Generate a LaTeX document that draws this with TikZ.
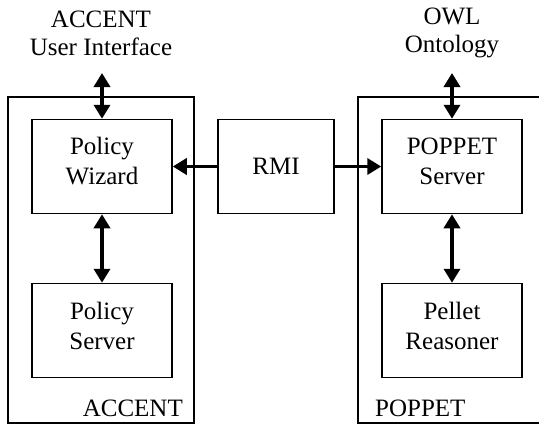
\documentclass[tikz,border=0pt]{standalone}
\usepackage{fontspec}
\setmainfont{Liberation Serif}
\usetikzlibrary{arrows.meta}
\begin{document}
\begin{tikzpicture}[x=1pt,y=-1pt,
  comp/.style={draw,line width=1.5pt,minimum width=140pt,minimum height=94pt,inner sep=0pt},
  boxtext/.style={align=center,inner sep=0pt,font=\fontsize{25}{30}\selectfont},
  toptext/.style={align=center,inner sep=0pt,font=\fontsize{25}{28}\selectfont},
  sidetext/.style={inner sep=0pt,font=\fontsize{25}{30}\selectfont},
  biarrow/.style={line width=3.5pt,{Triangle[length=14pt,width=16pt]}-{Triangle[length=14pt,width=16pt]}},
  onearrow/.style={line width=3.5pt,-{Triangle[length=14pt,width=16pt]}}]
\useasboundingbox (0,0) rectangle (539,424);
% containers
\draw[line width=1.5pt] (8,97) rectangle (194,423);
\draw[line width=1.5pt] (545,97) -- (358,97) -- (358,423) -- (545,423);
\node[sidetext,anchor=base east] (accentlbl) at (183,416) {ACCENT};
\node[sidetext,anchor=base west] (poppetlbl) at (375,416) {POPPET};
% components
\node[comp] (pw) at (102,166.5) {};
\node[boxtext,yshift=5pt] (pwt) at (pw.center) {Policy\\Wizard};
\node[comp,minimum width=116pt] (rmi) at (276,166.5) {};
\node[boxtext] (rmit) at (rmi.center) {RMI};
\node[comp] (ps) at (452,166.5) {};
\node[boxtext,yshift=5pt] (pst) at (ps.center) {POPPET\\Server};
\node[comp] (pol) at (102,330.5) {};
\node[boxtext,yshift=5pt] (polt) at (pol.center) {Policy\\Server};
\node[comp] (pel) at (452,330.5) {};
\node[boxtext,yshift=5pt] (pelt) at (pel.center) {Pellet\\Reasoner};
% top labels
\node[toptext] (ui) at (101,33) {ACCENT\\User Interface};
\node[toptext] (owl) at (452,33) {OWL\\Ontology};
\coordinate (uiend) at (102,73);
\coordinate (owlend) at (452,73);
% connectors
\draw[biarrow] (uiend) -- (pw.north);
\draw[biarrow] (owlend) -- (ps.north);
\draw[biarrow] (pw.south) -- (pol.north);
\draw[biarrow] (ps.south) -- (pel.north);
\draw[onearrow] (rmi.west) -- (pw.east);
\draw[onearrow] (rmi.east) -- (ps.west);
\end{tikzpicture}
\end{document}
